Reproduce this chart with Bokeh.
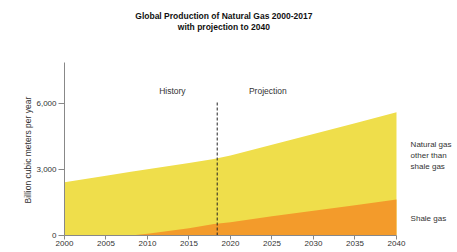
from bokeh.plotting import figure
from bokeh.models import FixedTicker, NumeralTickFormatter, Label, Range1d, Title
from bokeh.embed import file_html
from bokeh.resources import INLINE

years = [2000, 2005, 2008, 2010, 2015, 2018, 2020, 2025, 2030, 2035, 2040]
total_gas = [2420, 2720, 2900, 3010, 3300, 3480, 3640, 4120, 4610, 5100, 5600]
shale_gas = [0, 0, 0, 80, 330, 520, 600, 870, 1120, 1380, 1640]
x_ticks = [2000, 2005, 2010, 2015, 2020, 2025, 2030, 2035, 2040]
y_ticks = [0, 3000, 6000]
divider_year = 2018.4
divider_top = 6100
axis_max = 7850

FONT = "Liberation Sans"

p = figure(width=456, height=252, output_backend="svg", toolbar_location=None,
           x_range=Range1d(2000, 2047.23), y_range=Range1d(0, 10682),
           min_border_left=64, min_border_right=0, min_border_top=0, min_border_bottom=17)
p.outline_line_color = None
p.grid.visible = False
p.background_fill_color = "white"
p.border_fill_color = "white"

p.varea(x=years, y1=0, y2=total_gas, fill_color="#EFDE4B")
p.varea(x=years, y1=0, y2=shale_gas, fill_color="#F39B2B")
p.segment(x0=[divider_year], y0=[0], x1=[divider_year], y1=[divider_top],
          line_color="#222222", line_width=1, line_dash="3 2")

for ax in (p.xaxis[0], p.yaxis[0]):
    ax.axis_line_color = "#888888"
    ax.major_tick_line_color = "#888888"
    ax.minor_tick_line_color = None
    ax.major_label_text_font = FONT
    ax.major_label_text_font_size = "8px"
    ax.major_label_text_color = "#333333"
    ax.major_tick_in = 0

p.xaxis.bounds = (2000, 2040)
p.yaxis.bounds = (0, axis_max)
p.xaxis.ticker = FixedTicker(ticks=x_ticks)
p.xaxis.major_tick_out = 4
p.xaxis.major_label_standoff = 1
p.yaxis.ticker = FixedTicker(ticks=y_ticks)
p.yaxis.formatter = NumeralTickFormatter(format="0,0")
p.yaxis.major_tick_out = 6
p.yaxis.major_label_standoff = 2

p.add_layout(Title(text="Billion cubic meters per year", align="left", offset=32,
                   text_font=FONT, text_font_size="8.5px", text_font_style="normal",
                   text_color="#333333", standoff=2), "left")

def lab(x, y, text, size="8.5px", style="normal", align="left", base="middle", color="#333333"):
    p.add_layout(Label(x=x, y=y, text=text, text_font=FONT, text_font_size=size,
                       text_font_style=style, text_color=color, text_line_height=1.22,
                       text_align=align, text_baseline=base))

lab(2013.0, 6590, "History", align="center")
lab(2024.5, 6590, "Projection", align="center")
lab(2041.7, 3636, "Natural gas\nother than\nshale gas", size="8px", base="middle")
lab(2041.7, 773, "Shale gas", size="8px")
lab(2019.2, 10000, "Global Production of Natural Gas 2000-2017", style="bold", align="center", color="#111111")
lab(2019.2, 9500, "with projection to 2040", style="bold", align="center", color="#111111")

open("out.html", "w").write(file_html(p, INLINE))
